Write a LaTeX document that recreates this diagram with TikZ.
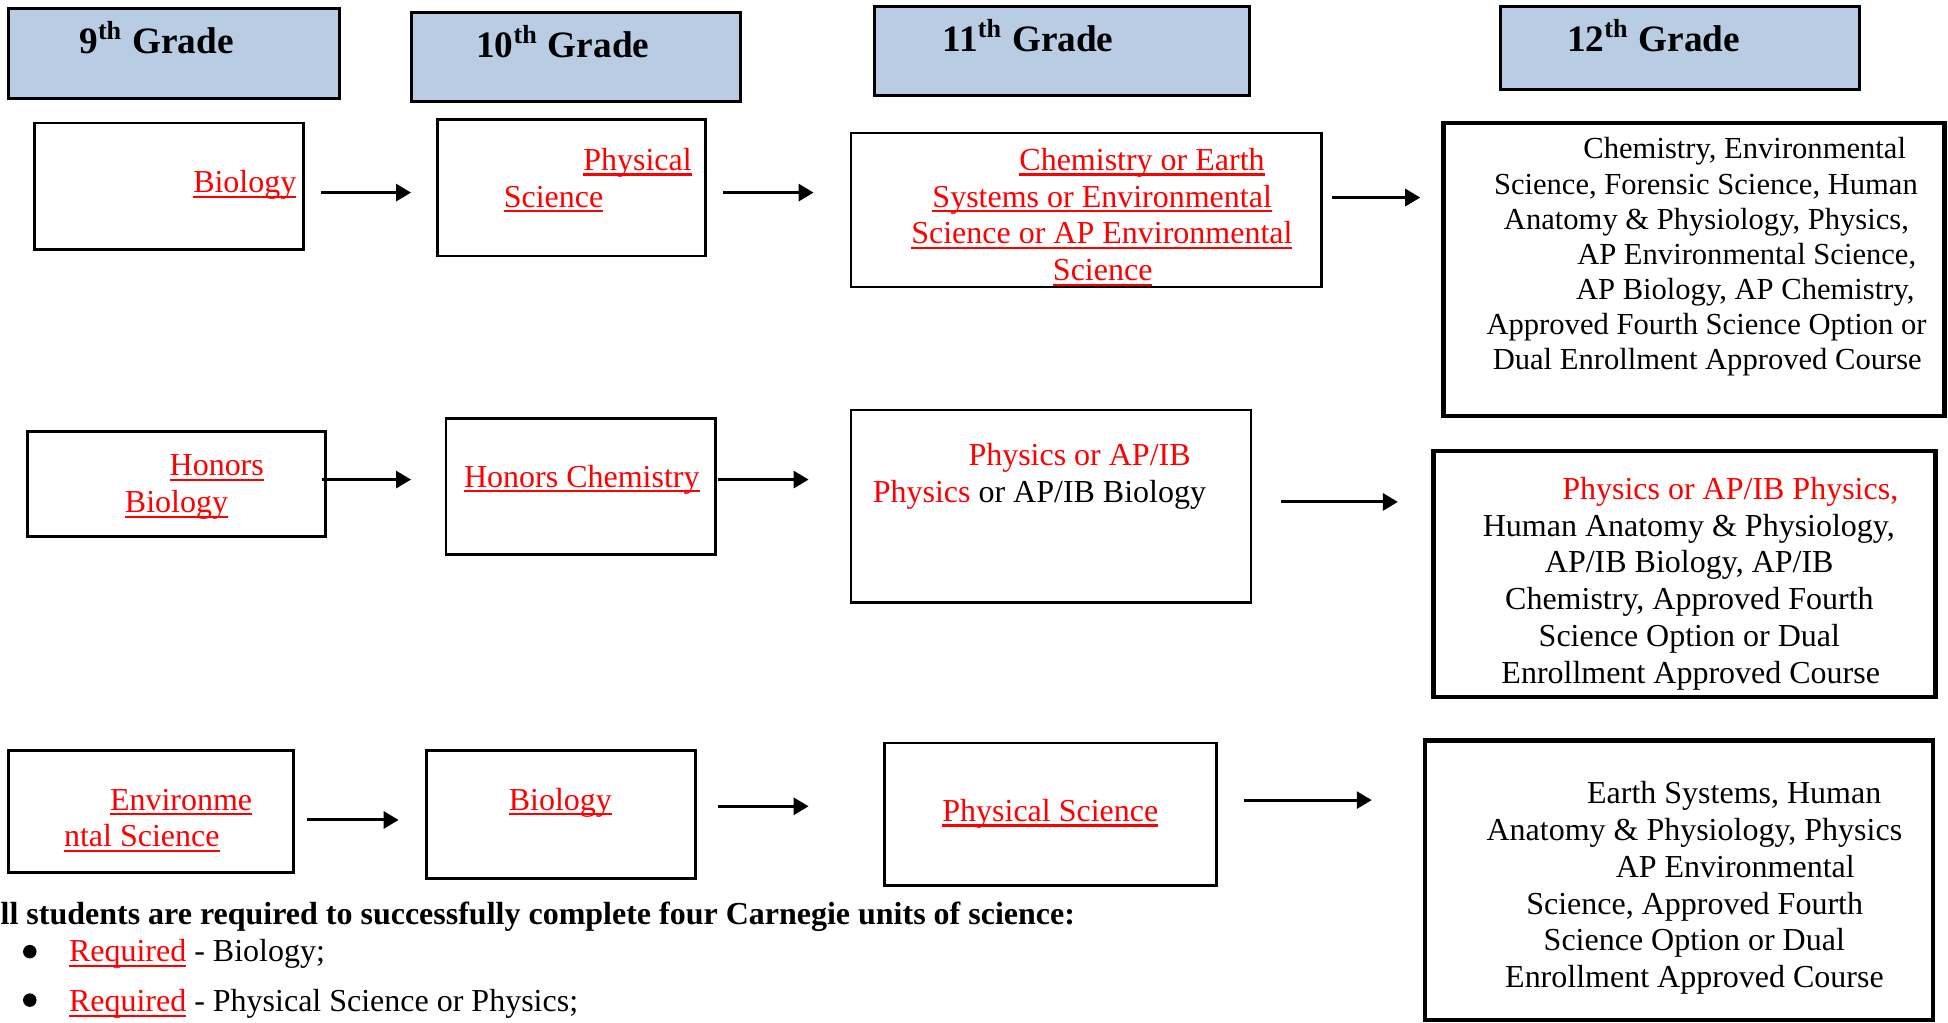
\documentclass[tikz,border=0pt]{standalone}
\usepackage{fontspec}
\setmainfont{Liberation Serif}
\usetikzlibrary{arrows.meta, fit, calc}

\definecolor{gradeblue}{HTML}{B8CCE4}
\newlength{\px}
\setlength{\px}{0.012423cm}
\newsavebox{\ulbox}
\newcommand{\ind}[1]{\hspace*{#1\px}}
\newcommand{\redul}[1]{\sbox{\ulbox}{\textcolor{red}{#1}}\textcolor{red}{\rlap{\rule[-1.5pt]{\wd\ulbox}{0.6pt}}}\usebox{\ulbox}}
\newcommand{\redtx}[1]{\textcolor{red}{#1}}

\tikzset{
  grade/.style={draw, fill=gradeblue, line width=0.85pt, inner sep=0pt},
  box/.style={draw, line width=0.8pt, inner sep=0pt},
  optbox/.style={draw, line width=1.3pt, inner sep=0pt},
  gradetext/.style={anchor=base, inner sep=0pt, font=\fontsize{10.6}{12.2}\selectfont\bfseries},
  course/.style={anchor=north west, align=left, inner sep=0pt, font=\fontsize{9.1}{10.45}\selectfont},
  dot/.style={circle, fill, inner sep=0pt, minimum size=0.135cm},
  arr/.style={line width=0.85pt, -{Triangle[length=0.15cm, width=0.17cm]}}
}

\begin{document}
\begin{tikzpicture}[x=0.012423cm, y=-0.012423cm]
	\useasboundingbox (0,0) rectangle (1568,823.4);

	% grade headers
	\node[grade, fit={(7,7) (273,79)}] (g9) {};
	\node[grade, fit={(331,10) (596,82)}] (g10) {};
	\node[grade, fit={(704,5) (1006,77)}] (g11) {};
	\node[grade, fit={(1208,5) (1497,72)}] (g12) {};
	\node[gradetext] (g9t) at (126,43) {9\textsuperscript{th} Grade};
	\node[gradetext] (g10t) at (453,46) {10\textsuperscript{th} Grade};
	\node[gradetext] (g11t) at (827.5,41.6) {11\textsuperscript{th} Grade};
	\node[gradetext] (g12t) at (1331,41.6) {12\textsuperscript{th} Grade};

	% first row
	\node[box, fit={(28,99) (244,201)}] (bioA) {};
	\node[box, fit={(352,96) (568,206)}] (physA) {};
	\node[box, fit={(685,107) (1064,231)}] (chemA) {};
	\node[optbox, fit={(1162,99) (1565,335)}] (optA) {};
	\node[course] (bioAt) at (155,133.8) {\strut\redul{Biology}};
	\node[course] (physAt) at (405,115.8) {\strut\ind{64}\redul{Physical}\\\strut\redul{Science}};
	\node[course] (chemAt) at (733,115.8) {\strut\ind{87}\redul{Chemistry or Earth}\\
		\strut\ind{17}\redul{Systems or Environmental}\\
		\strut\redul{Science or AP Environmental}\\
		\strut\ind{114}\redul{Science}};
	\node[course, font=\fontsize{8.7}{10}\selectfont] (optAt) at (1196,107.5) {\strut\ind{78}Chemistry, Environmental\\
		\strut\ind{6}Science, Forensic Science, Human\\
		\strut\ind{14}Anatomy \& Physiology, Physics,\\
		\strut\ind{73}AP Environmental Science,\\
		\strut\ind{72}AP Biology, AP Chemistry,\\
		\strut Approved Fourth Science Option or\\
		\strut\ind{5}Dual Enrollment Approved Course};
	\draw[arr] ($(bioA.east)+(13,5)$) -- ($(physA.west)+(-20,4)$);
	\draw[arr] ($(physA.east)+(13,4)$) -- ($(chemA.west)+(-29,-14)$);
	\draw[arr] ($(chemA.east)+(7,-10)$) -- ($(optA.west)+(-17,-58)$);

	% second row
	\node[box, fit={(22,347) (262,432)}] (honA) {};
	\node[box, fit={(359,337) (576,446)}] (hchemA) {};
	\node[box, fit={(685,330) (1007,485)}] (physB) {};
	\node[optbox, fit={(1154,363) (1558,561)}] (optB) {};
	\node[course] (honAt) at (100,361.8) {\strut\ind{36}\redul{Honors}\\\strut\redul{Biology}};
	\node[course] (hchemAt) at (373,370.8) {\strut\redul{Honors Chemistry}};
	\node[course] (physBt) at (702,353.8) {\strut\ind{77}\redtx{Physics or AP/IB}\\
		\strut\redtx{Physics} or AP/IB Biology};
	\node[course] (optBt) at (1193,380.8) {\strut\ind{64}\redtx{Physics or AP/IB Physics,}\\
		\strut Human Anatomy \& Physiology,\\
		\strut\ind{50}AP/IB Biology, AP/IB\\
		\strut\ind{18}Chemistry, Approved Fourth\\
		\strut\ind{45}Science Option or Dual\\
		\strut\ind{15}Enrollment Approved Course};
	\draw[arr] ($(honA.east)+(-4,-3.5)$) -- ($(hchemA.west)+(-27,-5.5)$);
	\draw[arr] ($(hchemA.east)+(1,-5.5)$) -- ($(physB.west)+(-33,-21.5)$);
	\draw[arr] ($(physB.east)+(23,-3.5)$) -- ($(optB.west)+(-27,-58)$);

	% third row
	\node[box, fit={(7,604) (236,702)}] (envC) {};
	\node[box, fit={(343,604) (560,707)}] (bioC) {};
	\node[box, fit={(712,598) (979,713)}] (physC) {};
	\node[optbox, fit={(1147,596) (1556,821)}] (optC) {};
	\node[course] (envCt) at (51,630.8) {\strut\ind{37}\redul{Environme}\\\strut\redul{ntal Science}};
	\node[course] (bioCt) at (409,630.8) {\strut\redul{Biology}};
	\node[course] (physCt) at (758,639.8) {\strut\redul{Physical Science}};
	\node[course] (optCt) at (1196,625.8) {\strut\ind{81}Earth Systems, Human\\
		\strut Anatomy \& Physiology, Physics\\
		\strut\ind{104}AP Environmental\\
		\strut\ind{32}Science, Approved Fourth\\
		\strut\ind{46}Science Option or Dual\\
		\strut\ind{15}Enrollment Approved Course};
	\draw[arr] ($(envC.east)+(10,7)$) -- ($(bioC.west)+(-21,4.5)$);
	\draw[arr] ($(bioC.east)+(17,-6.5)$) -- ($(physC.west)+(-60,-6.5)$);
	\draw[arr] ($(physC.east)+(21,-11.5)$) -- ($(optC.west)+(-41,-64.5)$);

	% requirement notes
	\node[course, font=\fontsize{9.1}{10.45}\selectfont\bfseries] (note) at (0,722.8) {\strut ll students are required to successfully complete four Carnegie units of science:};
	\node[dot] (dotA) at (24,766) {};
	\node[course] (reqA) at (55,752.8) {\strut\redul{Required} - Biology;};
	\node[dot] (dotB) at (24,805) {};
	\node[course] (reqB) at (55,792.8) {\strut\redul{Required} - Physical Science or Physics;};
\end{tikzpicture}
\end{document}
